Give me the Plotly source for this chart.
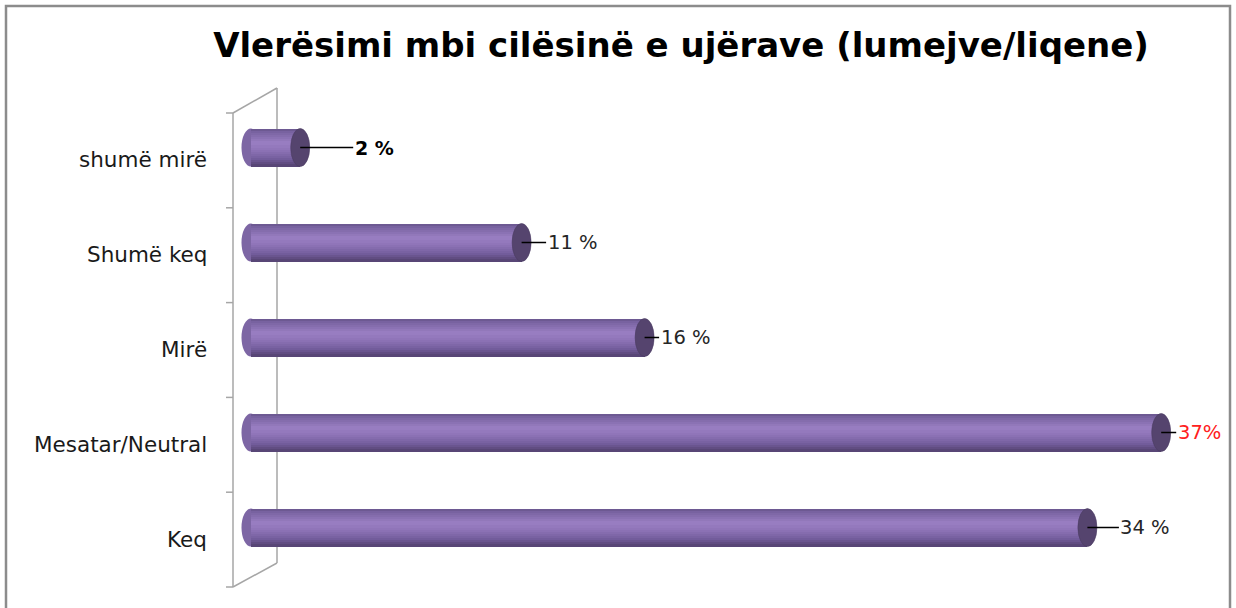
import plotly.graph_objects as go

# ---- data ----
categories = ["shumë mirë", "Shumë keq", "Mirë", "Mesatar/Neutral", "Keq"]
values = [2, 11, 16, 37, 34]
value_labels = ["2 %", "11 %", "16 %", "37%", "34 %"]
title_text = "Vlerësimi mbi cilësinë e ujërave (lumejve/liqene)"

# ---- style ----
label_colors = ["#000000", "#262626", "#262626", "#ff2020", "#262626"]
label_bold = [True, False, False, False, False]
label_ax = [74, 51, 41, 38, 58]

W, H = 1236, 608
L, R, T, B = 233, 10, 100, 33
PW, PH = W - L - R, H - T - B
SCALE = 24.6
XMIN = -(251 - L) / SCALE
XMAX = XMIN + PW / SCALE
BAR_W = 0.4

def hexmix(c1, c2, t):
    a = [int(c1[i:i + 2], 16) for i in (1, 3, 5)]
    b = [int(c2[i:i + 2], 16) for i in (1, 3, 5)]
    return "#" + "".join(f"{round(x + (y - x) * t):02x}" for x, y in zip(a, b))

profile = [(0.0, "#67548a"), (0.08, "#7862a0"), (0.38, "#9a7fc3"),
           (0.55, "#8f74b8"), (0.8, "#735d9c"), (1.0, "#544270")]

def grad(t):
    for (t0, c0), (t1, c1) in zip(profile, profile[1:]):
        if t0 <= t <= t1:
            return hexmix(c0, c1, (t - t0) / (t1 - t0))
    return profile[-1][1]

N = 18
fig = go.Figure()
for k in range(N):
    fig.add_trace(go.Bar(
        x=values, y=categories, orientation="h",
        width=BAR_W / N * 1.05, offset=-BAR_W / 2 + k * BAR_W / N,
        marker=dict(color=grad((k + 0.5) / N), line=dict(width=0)),
        hoverinfo="skip", showlegend=False))

def px(X):
    return (X - L) / PW

def py(Y):
    return (H - B - Y) / PH

shapes = []
wall = dict(color="#a6a6a6", width=1.5)
# back wall line (behind bars)
shapes.append(dict(type="line", xref="paper", yref="paper", x0=px(277), x1=px(277),
                   y0=py(88), y1=py(563), line=wall, layer="below"))
# front wall line and diagonals
shapes.append(dict(type="line", xref="paper", yref="paper", x0=px(233), x1=px(233),
                   y0=py(113), y1=py(587), line=wall))
shapes.append(dict(type="line", xref="paper", yref="paper", x0=px(233), x1=px(277),
                   y0=py(113), y1=py(88), line=wall))
shapes.append(dict(type="line", xref="paper", yref="paper", x0=px(233), x1=px(277),
                   y0=py(587), y1=py(563), line=wall))
for k in range(len(categories) + 1):
    Y = 113 + k * (587 - 113) / len(categories)
    shapes.append(dict(type="line", xref="paper", yref="paper", x0=px(226), x1=px(233),
                       y0=py(Y), y1=py(Y), line=wall))
# outer border
shapes.append(dict(type="rect", xref="paper", yref="paper", x0=px(6), x1=px(1230),
                   y0=py(6), y1=py(620), line=dict(color="#8c8c8c", width=2.5)))

hw = 9.5 / SCALE  # cap half-width in data units
for i, v in enumerate(values):
    # left rounded end
    shapes.append(dict(type="circle", xref="x", yref="y", x0=-hw, x1=hw,
                       y0=i - BAR_W / 2, y1=i + BAR_W / 2,
                       fillcolor="#7d66a4", line=dict(width=0), layer="below"))
    # right end face
    shapes.append(dict(type="circle", xref="x", yref="y", x0=v - hw, x1=v + hw,
                       y0=i - BAR_W / 2, y1=i + BAR_W / 2,
                       fillcolor="#55446e", line=dict(color="#4c3d63", width=0.6)))

annotations = []
for i, (cat, v, lab) in enumerate(zip(categories, values, value_labels)):
    annotations.append(dict(
        x=px(209), xref="paper", y=cat, yref="y", yshift=-12,
        text=cat, showarrow=False, xanchor="right",
        font=dict(family="DejaVu Sans", size=21.5, color="#1a1a1a")))
    txt = f"<b>{lab}</b>" if label_bold[i] else lab
    annotations.append(dict(
        x=v, y=cat, xref="x", yref="y", text=txt,
        showarrow=True, arrowhead=0, arrowwidth=1.4, arrowcolor="#000000",
        ax=label_ax[i], ay=0, standoff=0,
        font=dict(family="DejaVu Sans", size=19 if label_bold[i] else 19.5,
                  color=label_colors[i])))

fig.update_layout(
    width=W, height=H,
    margin=dict(l=L, r=R, t=T, b=B),
    paper_bgcolor="white", plot_bgcolor="white",
    barmode="overlay", bargap=0,
    title=dict(text=f"<b>{title_text}</b>", x=681 / W, xanchor="center",
               y=1 - 45 / H, yanchor="middle", xref="container", yref="container",
               font=dict(family="DejaVu Sans", size=34, color="#000000")),
    xaxis=dict(range=[XMIN, XMAX], visible=False, fixedrange=True),
    yaxis=dict(categoryorder="array", categoryarray=categories, autorange="reversed",
               showticklabels=False, showgrid=False, zeroline=False, showline=False,
               ticks="", fixedrange=True),
    shapes=shapes, annotations=annotations,
)

fig.write_html("out.html", config={"displayModeBar": False},
               post_script="document.body.style.margin='0';document.body.style.overflow='hidden';")
